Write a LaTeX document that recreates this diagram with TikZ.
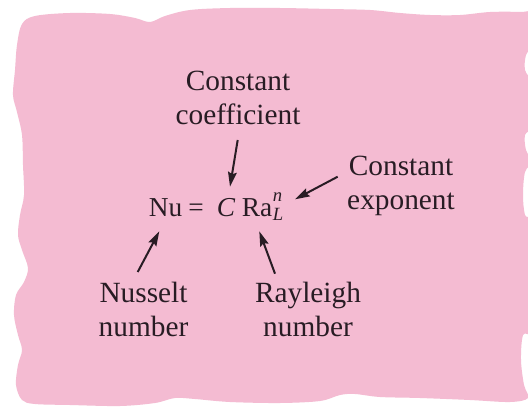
\documentclass[tikz,border=0pt]{standalone}
\usepackage{fontspec}
\setmainfont{Liberation Serif}
\usetikzlibrary{arrows.meta}
\definecolor{bgpink}{RGB}{244,187,210}
\definecolor{ink}{RGB}{40,28,36}
\newcommand{\scrstack}[2]{{\fontsize{14}{16}\selectfont\itshape\kern0.5pt\rlap{\raisebox{10.75pt}{#1}}\raisebox{-3pt}{#2}}}
\begin{document}
\begin{tikzpicture}[x=0.75pt,y=-0.75pt,
 lbl/.style={inner sep=0pt, align=center, text=ink, font=\fontsize{22}{25.5}\selectfont, anchor=base},
 eq/.style={inner sep=0pt, text=ink, font=\fontsize{20.5}{24}\selectfont, anchor=base},
 arr/.style={draw=ink, line width=1.5pt, -{Stealth[length=11pt,width=6.5pt,inset=1.5pt]}}]
\useasboundingbox (0,0) rectangle (528,414);
\fill[white] (0,0) rectangle (528,414);
\fill[bgpink] plot[smooth cycle, tension=0.55] coordinates {
(22,24) (35,16) (70,13) (110,14) (135,18) (150,22) (165,16) (190,10) (230,8) (280,8) (330,9) (370,10) (400,13) (430,15) (460,15) (490,12) (520,12) (532,14) (532,45) (526,55) (525,70) (532,85) (532,125) (525,135) (526,150) (532,162) (525,172) (523,195) (525,215) (532,228) (532,325) (523,335) (521,360) (524,385) (528,398) (510,402) (470,400) (420,398) (380,397) (355,394) (340,395) (320,401) (280,403) (230,402) (195,399) (175,398) (155,403) (120,406) (70,405) (35,404) (22,400) (16,385) (18,365) (22,350) (18,335) (14,315) (16,295) (24,282) (28,268) (22,250) (18,235) (20,215) (24,195) (23,165) (22,135) (17,112) (13,95) (15,70) (17,45)};
% equation
\node[eq] (Nu) at (165.5,216) {Nu};
\node[eq] (eqs) at (196,216) {=};
\node[eq] (C) at (226,216) {\itshape C};
\node[eq, anchor=base west] (Ra) at (241.5,216) {Ra\scrstack{n}{L}};
% labels (base anchor = baseline of the last line)
\node[lbl] (coef) at (238,124) {Constant\\coefficient};
\node[lbl] (expo) at (401,209) {Constant\\exponent};
\node[lbl] (nus) at (143.5,336) {Nusselt\\number};
\node[lbl] (ray) at (308,336) {Rayleigh\\number};
% arrows
\draw[arr] ([shift={(-0.3,16)}]coef.base) -- ([shift={(4,-29.3)}]C.base);
\draw[arr] ([shift={(-63.3,-32.3)}]expo.base) -- ([shift={(53.5,-16.7)}]Ra.base west);
\draw[arr] ([shift={(-5.8,-64)}]nus.base) -- ([shift={(-6.2,15.3)}]Nu.base);
\draw[arr] ([shift={(-33,-62.3)}]ray.base) -- ([shift={(17.8,15.3)}]Ra.base west);
\end{tikzpicture}
\end{document}
